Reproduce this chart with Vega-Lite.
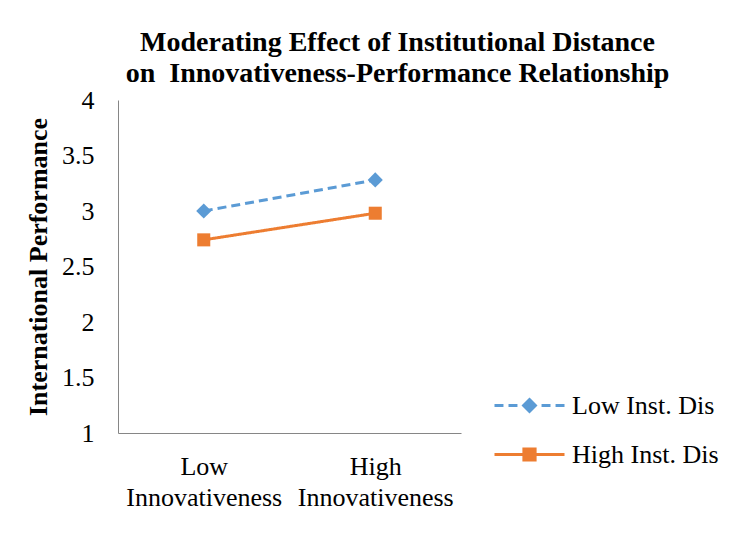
{
  "$schema": "https://vega.github.io/schema/vega-lite/v6.json",
  "width": 343,
  "height": 333,
  "autosize": {"type": "none"},
  "padding": {"left": 118, "top": 100, "right": 293, "bottom": 105},
  "background": "white",
  "title": {
    "text": ["Moderating Effect of Institutional Distance", "on\u00a0 Innovativeness-Performance Relationship"],
    "font": "Liberation Serif",
    "fontSize": 28,
    "fontWeight": "bold",
    "color": "black",
    "anchor": "middle",
    "frame": "group",
    "dx": 108,
    "lineHeight": 31,
    "offset": -1
  },
  "config": {"view": {"stroke": null}},
  "data": {
    "values": [
      {"series": "Low Inst. Dis", "innovativeness": "Low Innovativeness", "performance": 3.0},
      {"series": "Low Inst. Dis", "innovativeness": "High Innovativeness", "performance": 3.28},
      {"series": "High Inst. Dis", "innovativeness": "Low Innovativeness", "performance": 2.74},
      {"series": "High Inst. Dis", "innovativeness": "High Innovativeness", "performance": 2.98}
    ]
  },
  "resolve": {
    "scale": {"shape": "independent"},
    "legend": {"color": "independent", "shape": "independent"}
  },
  "encoding": {
    "x": {
      "field": "innovativeness",
      "type": "nominal",
      "sort": ["Low Innovativeness", "High Innovativeness"],
      "scale": {"type": "point", "padding": 0.5},
      "axis": {
        "title": null,
        "ticks": false,
        "grid": false,
        "domainColor": "#868686",
        "domainWidth": 1,
        "labelAngle": 0,
        "labelFont": "Liberation Serif",
        "labelFontSize": 26,
        "labelColor": "black",
        "labelExpr": "split(datum.label, ' ')",
        "labelLineHeight": 31,
        "labelPadding": 20
      }
    },
    "y": {
      "field": "performance",
      "type": "quantitative",
      "scale": {"domain": [1, 4], "nice": false, "zero": false},
      "axis": {
        "values": [1, 1.5, 2, 2.5, 3, 3.5, 4],
        "format": "~g",
        "ticks": false,
        "grid": false,
        "domainColor": "#868686",
        "domainWidth": 1,
        "labelFont": "Liberation Serif",
        "labelFontSize": 26,
        "labelColor": "black",
        "labelPadding": 24,
        "labelFlush": false,
        "title": "International Performance",
        "titleFont": "Liberation Serif",
        "titleFontSize": 26,
        "titleFontWeight": "bold",
        "titleColor": "black",
        "titlePadding": 10
      }
    }
  },
  "layer": [
    {
      "mark": {"type": "line", "strokeWidth": 3},
      "encoding": {
        "color": {
          "field": "series",
          "type": "nominal",
          "scale": {"domain": ["Low Inst. Dis", "High Inst. Dis"], "range": ["#5B9BD5", "#ED7D31"]},
          "legend": null
        },
        "strokeDash": {
          "field": "series",
          "type": "nominal",
          "scale": {"domain": ["Low Inst. Dis", "High Inst. Dis"], "range": [[9, 5], [1, 0]]},
          "legend": null
        }
      }
    },
    {
      "mark": {"type": "point", "filled": true, "opacity": 1},
      "encoding": {
        "color": {
          "field": "series",
          "type": "nominal",
          "scale": {"domain": ["Low Inst. Dis", "High Inst. Dis"], "range": ["#5B9BD5", "#ED7D31"]},
          "legend": null
        },
        "shape": {
          "field": "series",
          "type": "nominal",
          "scale": {"domain": ["Low Inst. Dis", "High Inst. Dis"], "range": ["diamond", "square"]},
          "legend": null
        },
        "size": {
          "field": "series",
          "type": "nominal",
          "scale": {"domain": ["Low Inst. Dis", "High Inst. Dis"], "range": [230, 170]},
          "legend": null
        }
      }
    },
    {
      "transform": [{"filter": "datum.performance > 100"}],
      "mark": {"type": "point", "filled": false, "opacity": 1, "strokeWidth": 3},
      "encoding": {
        "color": {
          "field": "series",
          "type": "nominal",
          "scale": {"domain": ["Low Inst. Dis", "High Inst. Dis"], "range": ["#5B9BD5", "#ED7D31"]},
          "legend": {
            "title": null,
            "orient": "none",
            "legendX": 396,
            "legendY": 290,
            "labelFont": "Liberation Serif",
            "labelFontSize": 26,
            "labelColor": "black",
            "labelOffset": 27,
            "rowPadding": 20,
            "symbolSize": 784,
            "symbolStrokeWidth": 3,
            "symbolOpacity": 1
          }
        },
        "shape": {
          "field": "series",
          "type": "nominal",
          "scale": {
            "domain": ["Low Inst. Dis", "High Inst. Dis"],
            "range": [
              "M-2.5,0H-1.86M-1.5,0H-0.86M0.86,0H1.5M1.86,0H2.5M0,-0.42L0.42,0L0,0.42L-0.42,0ZM0,-0.28L0.28,0L0,0.28L-0.28,0ZM0,-0.14L0.14,0L0,0.14L-0.14,0ZM0,-0.03L0.03,0L0,0.03L-0.03,0Z",
              "M-2.5,0H2.5M-0.4,-0.4H0.4V0.4H-0.4ZM-0.25,-0.25H0.25V0.25H-0.25ZM-0.1,-0.1H0.1V0.1H-0.1Z"
            ]
          },
          "legend": {
            "title": null,
            "orient": "none",
            "legendX": 396,
            "legendY": 290,
            "labelFont": "Liberation Serif",
            "labelFontSize": 26,
            "labelColor": "black",
            "labelOffset": 27,
            "rowPadding": 20,
            "symbolSize": 784,
            "symbolStrokeWidth": 3,
            "symbolOpacity": 1
          }
        }
      }
    }
  ]
}
